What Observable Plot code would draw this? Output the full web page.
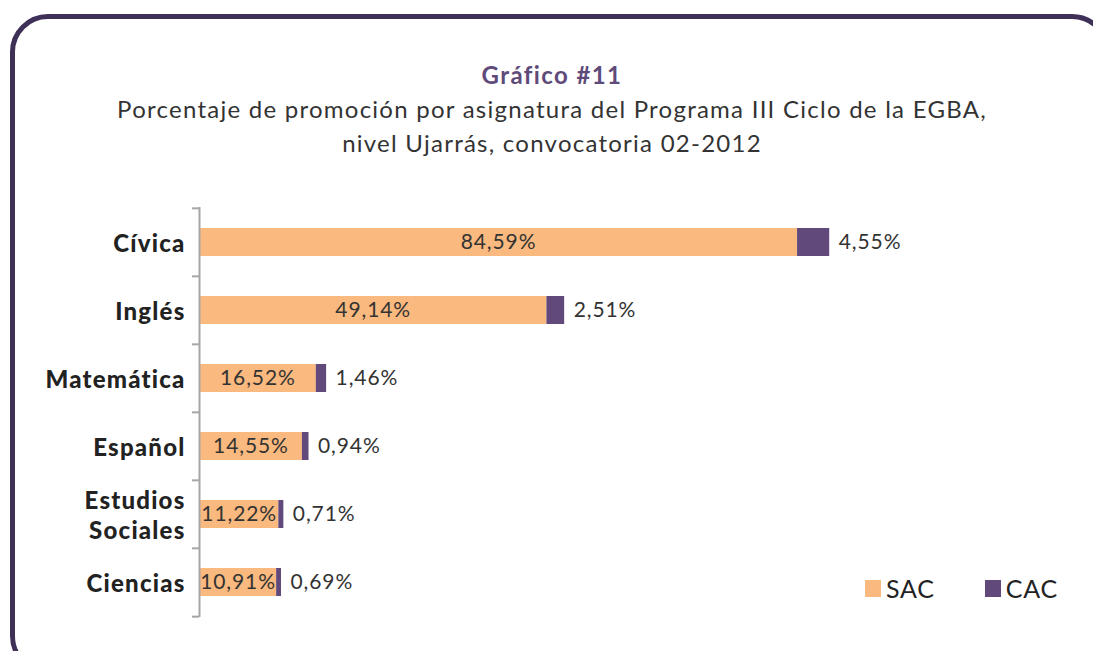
<!DOCTYPE html>
<html>
<head>
<meta charset="utf-8">
<script src="https://cdn.jsdelivr.net/npm/d3@7"></script>
<script src="https://cdn.jsdelivr.net/npm/@observablehq/plot@0.6"></script>
<style>
  html, body { margin: 0; padding: 0; background: #fff; }
  #wrap { position: relative; width: 1093px; height: 651px; overflow: hidden; font-family: Lato, "Open Sans", sans-serif; }
  #frame { position: absolute; left: 10px; top: 14px; width: 1100px; height: 660px; border: 5px solid #3f3058; border-radius: 38px; box-sizing: border-box; }
  .t { position: absolute; left: 0; width: 1104px; text-align: center; color: #333; font-size: 24px; letter-spacing: 1.25px; font-weight: 400; }
  #title { top: 60px; color: #5f4b7a; font-weight: bold; font-size: 24px; letter-spacing: 1.4px; }
  #sub1 { top: 94px; }
  #sub2 { top: 128px; }
  #chart { position: absolute; left: 0; top: 0; }
  #legend { position: absolute; top: 573px; left: 865px; font-size: 25px; color: #222; display: flex; letter-spacing: 0.8px; font-weight: 400; }
  .li { display: flex; align-items: center; margin-right: 50px; }
  .sw { width: 16px; height: 17px; margin-right: 5px; }
</style>
</head>
<body>
<div id="wrap">
  <div id="frame"></div>
  <div id="chart"></div>
  <div class="t" id="title">Gráfico #11</div>
  <div class="t" id="sub1">Porcentaje de promoción por asignatura del Programa III Ciclo de la EGBA,</div>
  <div class="t" id="sub2">nivel Ujarrás, convocatoria 02-2012</div>
  <div id="legend"></div>
</div>
<script>
const categories = ["Cívica", "Inglés", "Matemática", "Español", "Estudios Sociales", "Ciencias"];
const sac = [84.59, 49.14, 16.52, 14.55, 11.22, 10.91];
const cac = [4.55, 2.51, 1.46, 0.94, 0.71, 0.69];
const series = ["SAC", "CAC"];
const colors = ["#fab97e", "#614a7b"];

const fmt = v => v.toFixed(2).replace(".", ",") + "%";

const rows = [];
categories.forEach((c, i) => {
  rows.push({cat: c, serie: "SAC", value: sac[i]});
  rows.push({cat: c, serie: "CAC", value: cac[i]});
});
const sacRows = categories.map((c, i) => ({cat: c, value: sac[i]}));
const cacRows = categories.map((c, i) => ({cat: c, start: sac[i], value: cac[i]}));

const W = 1093, H = 651, mT = 207, mB = 34;
const step = (H - mT - mB) / categories.length;

const chart = Plot.plot({
  width: W,
  height: H,
  marginLeft: 199,
  marginRight: 187,
  marginTop: mT,
  marginBottom: mB,
  style: {fontFamily: "Lato, 'Open Sans', sans-serif", background: "transparent"},
  x: {domain: [0, 100], axis: null},
  y: {domain: categories, paddingInner: 0.59, paddingOuter: 0.295, label: null},
  color: {domain: series, range: colors},
  marks: [
    Plot.barX(rows, {y: "cat", x: "value", fill: "serie", order: series}),
    Plot.ruleX([0], {stroke: "#a6a6a6", strokeWidth: 2}),
    Plot.ruleY(categories, {y: d => d, x1: -1, x2: 0, dy: -step / 2, stroke: "#a6a6a6", strokeWidth: 2}),
    Plot.ruleY([categories[categories.length - 1]], {y: d => d, x1: -1, x2: 0, dy: step / 2, stroke: "#a6a6a6", strokeWidth: 2}),
    Plot.axisY({
      tickSize: 0,
      tickPadding: 14,
      fontSize: 24,
      fontWeight: 900,
      fill: "#222",
      lineHeight: 1.25,
      tickFormat: d => d.replace(" ", "\n"),
      label: null
    }),
    Plot.text(sacRows, {x: d => d.value / 2, y: "cat", text: d => fmt(d.value), fontSize: 21, fill: "#333"}),
    Plot.text(cacRows, {x: d => d.start + d.value, y: "cat", text: d => fmt(d.value), fontSize: 21, fill: "#333", textAnchor: "start", dx: 9})
  ]
});
chart.querySelectorAll("text").forEach(t => t.style.letterSpacing = t.closest("[aria-label='y-axis tick label']") ? "1.2px" : "0.9px");
document.getElementById("chart").appendChild(chart);

const leg = document.getElementById("legend");
series.forEach((s, i) => {
  const el = document.createElement("div");
  el.className = "li";
  el.innerHTML = `<div class="sw" style="background:${colors[i]}"></div><span>${s}</span>`;
  leg.appendChild(el);
});
</script>
</body>
</html>
